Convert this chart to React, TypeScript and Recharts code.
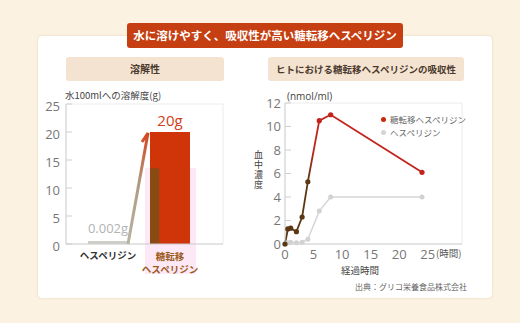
import React from 'react';
import { BarChart, Bar, Cell, LineChart, Line, XAxis, YAxis, CartesianGrid, Legend, LabelList } from 'recharts';

// 溶解性 (g / 100ml)
const solCategories = ['ヘスペリジン', '糖転移ヘスペリジン'];
const solValues = [0.002, 20];
const solLabels = ['0.002g', '20g'];
const solTicks = [0, 5, 10, 15, 20, 25];

// 血中濃度 (nmol/ml)
const hours = [0, 0.5, 1, 2, 3, 4, 6, 8, 24];
const glucosylHesperidin = [0, 1.28, 1.35, 1.05, 2.3, 5.3, 10.5, 11.0, 6.1];
const hesperidin = [0, 0.1, 0.15, 0.1, 0.15, 0.4, 2.8, 4.0, 4.0];
const hourTicks = [0, 5, 10, 15, 20, 25];
const concTicks = [0, 2, 4, 6, 8, 10, 12];

const seriesNames = ['糖転移ヘスペリジン', 'ヘスペリジン'];

const JP = '"Noto Sans CJK JP", "Noto Sans", sans-serif';
const NUM = '"Open Sans", "Noto Sans", sans-serif';

const DARK = '#5b3813';

const solData = solCategories.map((name, i) => ({ name, value: solValues[i], label: solLabels[i] }));
const absData = hours.map((t, i) => ({ t, glu: glucosylHesperidin[i], hes: hesperidin[i] }));

const borderGen = (which: 'h' | 'v') => (props: any) => {
  const o = props?.offset;
  if (!o) return [];
  return which === 'h' ? [o.top] : [o.left + o.width];
};

function SolTick(props: any) {
  const { x, y, payload, index } = props;
  if (index === 0) {
    return (
      <text x={x} y={y + 7} textAnchor="middle" fontSize={9.5} fontWeight={600} fill="#333" fontFamily={JP}>
        {payload.value}
      </text>
    );
  }
  return (
    <text x={x} y={y + 8} textAnchor="middle" fontSize={9.5} fontWeight={600} fill="#9c5a1c" fontFamily={JP}>
      <tspan x={x} dy={0}>糖転移</tspan>
      <tspan x={x} dy={12.5}>ヘスペリジン</tspan>
    </text>
  );
}

function SolBarShape(props: any) {
  const { x, y, width, height, index, fill, value } = props;
  if (index !== 1) return <rect x={x} y={y} width={width} height={height} fill={fill} />;
  const v = Array.isArray(value) ? value[1] : value;
  const yBand = y + height * (1 - 13.5 / v);
  return (
    <g>
      <rect x={x} y={y} width={width} height={height} fill={fill} />
      <rect x={x} y={yBand} width={width * 0.23} height={y + height - yBand} fill="#8a4a14" />
    </g>
  );
}

function SolLabel(props: any) {
  const { x, y, width, height, index, value } = props;
  const cx = x + width / 2;
  if (index === 0) {
    return (
      <text x={cx} y={y - 8} textAnchor="middle" fontSize={13} fill="#b3b3b3" fontFamily={NUM}>
        {value}
      </text>
    );
  }
  const bx = x - 22;
  const by = y + height;
  const tx = x - 2;
  const ty = y + 1;
  return (
    <g>
      <defs>
        <linearGradient id="arrowGrad" gradientUnits="userSpaceOnUse" x1={bx} y1={by} x2={tx} y2={ty}>
          <stop offset="0%" stopColor="#b9b3a4" />
          <stop offset="55%" stopColor="#b09a80" />
          <stop offset="100%" stopColor="#d6451c" />
        </linearGradient>
      </defs>
      <path d={`M${bx},${by} L${tx},${ty} L${tx - 6},${ty + 9}`} stroke="url(#arrowGrad)" strokeWidth={3} fill="none" strokeLinejoin="miter" />
      <text x={cx} y={y - 6} textAnchor="middle" fontSize={15} fill="#d2401a" fontFamily={NUM}>
        {value}
      </text>
    </g>
  );
}

function GluDot(props: any) {
  const { cx, cy, index } = props;
  if (cx == null || cy == null) return null;
  return <circle key={`g${index}`} cx={cx} cy={cy} r={2.6} fill={index <= 5 ? DARK : '#c2241c'} />;
}

function AbsLegend() {
  const colors = ['#c8280f', '#d4d4d4'];
  return (
    <div style={{ fontFamily: JP, fontSize: 8.5, color: '#666', lineHeight: '13px' }}>
      {seriesNames.map((n, i) => (
        <div key={n} style={{ display: 'flex', alignItems: 'center', whiteSpace: 'nowrap' }}>
          <span style={{ width: 5, height: 5, borderRadius: 3, background: colors[i], marginRight: 4, display: 'inline-block' }} />
          {n}
        </div>
      ))}
    </div>
  );
}

const abs = (s: React.CSSProperties): React.CSSProperties => ({ position: 'absolute', ...s });

export default function App() {
  return (
    <div style={{ position: 'absolute', left: 0, top: 0, width: 520, height: 323, background: '#fcf2e1', overflow: 'hidden', fontFamily: JP }}>
      {/* card */}
      <div style={abs({ left: 38, top: 36, width: 454, height: 262, background: '#fff', borderRadius: 4, boxShadow: '0 0 2px rgba(200,170,130,0.5)' })} />
      {/* banner */}
      <div style={abs({ left: 127, top: 23, width: 276, height: 25, background: '#c63f12', borderRadius: 3, color: '#fff', fontSize: 11.5, fontWeight: 700, textAlign: 'center', lineHeight: '25px' })}>
        水に溶けやすく、吸収性が高い糖転移ヘスペリジン
      </div>
      {/* sub headers */}
      <div style={abs({ left: 66, top: 57, width: 158, height: 24, background: '#f5e3d1', borderRadius: 3, color: '#4a3a2e', fontSize: 10, fontWeight: 700, textAlign: 'center', lineHeight: '24px' })}>
        溶解性
      </div>
      <div style={abs({ left: 268, top: 57, width: 196, height: 24, background: '#f5e3d1', borderRadius: 3, color: '#4a3a2e', fontSize: 9.5, fontWeight: 700, textAlign: 'center', lineHeight: '24px' })}>
        ヒトにおける糖転移ヘスペリジンの吸収性
      </div>

      {/* left chart */}
      <div style={abs({ left: 65, top: 88, fontSize: 9.5, color: '#444', whiteSpace: 'nowrap' })}>水100mlへの溶解度(g)</div>
      <div style={abs({ left: 145, top: 168, width: 51, height: 106, background: '#fde9f6' })} />
      <div style={abs({ left: 30, top: 90 })}>
        <BarChart width={200} height={190} data={solData} margin={{ top: 14, right: 7, bottom: 6, left: 5 }} barSize={40}>
          <CartesianGrid stroke="#ececec" horizontalCoordinatesGenerator={borderGen('h')} verticalCoordinatesGenerator={borderGen('v')} />
          <XAxis dataKey="name" height={30} padding={{ left: 11, right: 22 }} tick={<SolTick />} tickLine={false} axisLine={{ stroke: '#c8c8c8' }} interval={0} />
          <YAxis domain={[0, 25]} ticks={solTicks} interval={0} width={31} tickSize={-6} tickMargin={12} tickLine={{ stroke: '#cfcfcf' }} axisLine={{ stroke: '#c8c8c8' }} tick={{ fontSize: 13, fill: '#777', fontFamily: NUM, dy: 2 }} />
          <Bar dataKey="value" isAnimationActive={false} minPointSize={3} shape={<SolBarShape />}>
            {solData.map((d, i) => (
              <Cell key={d.name} fill={i === 0 ? '#cfcfca' : '#cf3508'} />
            ))}
            <LabelList dataKey="label" content={<SolLabel />} />
          </Bar>
        </BarChart>
      </div>

      {/* right chart */}
      <div style={abs({ left: 287, top: 89, fontSize: 10, color: '#444', fontFamily: NUM })}>(nmol/ml)</div>
      <div style={abs({ left: 252, top: 150, fontSize: 9, color: '#444', writingMode: 'vertical-rl', letterSpacing: 1 })}>血中濃度</div>
      <div style={abs({ left: 250, top: 90 })}>
        <LineChart width={220} height={190} data={absData} margin={{ top: 13, right: 8, bottom: 12, left: 7 }}>
          <defs>
            <linearGradient id="gluGrad" x1="0" y1="0" x2="1" y2="0">
              <stop offset="0%" stopColor={DARK} />
              <stop offset="17%" stopColor={DARK} />
              <stop offset="21%" stopColor="#c2241c" />
              <stop offset="100%" stopColor="#c2241c" />
            </linearGradient>
          </defs>
          <CartesianGrid stroke="#ececec" horizontalCoordinatesGenerator={borderGen('h')} verticalCoordinatesGenerator={borderGen('v')} />
          <XAxis dataKey="t" type="number" domain={[0, 31]} ticks={hourTicks} interval={0} height={24} tickLine={false} axisLine={{ stroke: '#c8c8c8' }} tick={{ fontSize: 13, fill: '#777', fontFamily: NUM }} tickMargin={0} />
          <YAxis domain={[0, 12]} ticks={concTicks} interval={0} width={28} tickSize={-6} tickMargin={10} tickLine={{ stroke: '#cfcfcf' }} axisLine={{ stroke: '#c8c8c8' }} tick={{ fontSize: 13, fill: '#777', fontFamily: NUM }} />
          <Legend layout="vertical" verticalAlign="middle" align="center" wrapperStyle={{ top: 23, left: 131, width: 90 }} content={<AbsLegend />} />
          <Line dataKey="hes" name={seriesNames[1]} stroke="#d6d6d6" strokeWidth={1.5} dot={{ r: 2.5, fill: '#d2d2d2', stroke: 'none' }} isAnimationActive={false} />
          <Line dataKey="glu" name={seriesNames[0]} stroke="url(#gluGrad)" strokeWidth={1.8} dot={<GluDot />} isAnimationActive={false} />
        </LineChart>
      </div>
      <div style={abs({ left: 436, top: 246, fontSize: 9.5, color: '#555' })}>(時間)</div>
      <div style={abs({ left: 341, top: 263, fontSize: 9.5, color: '#444' })}>経過時間</div>
      <div style={abs({ left: 355, top: 281, fontSize: 8, color: '#666' })}>出典：グリコ栄養食品株式会社</div>
    </div>
  );
}
